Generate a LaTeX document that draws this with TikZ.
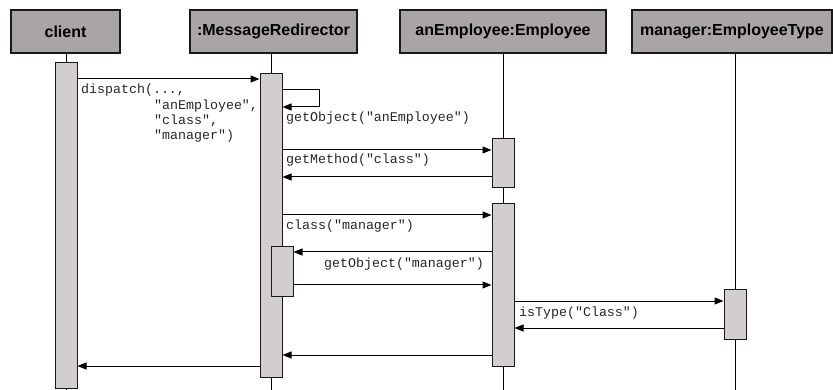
\documentclass[tikz,border=0pt]{standalone}
\usepackage{fontspec}
\setmainfont{Liberation Sans}
\newfontfamily\hdfont{Liberation Sans}
\newfontfamily\monofont{Liberation Mono}
\usetikzlibrary{arrows.meta}
\definecolor{hdr}{HTML}{A8A4A8}
\definecolor{actc}{HTML}{D1CDD1}
\begin{document}
\begin{tikzpicture}[x=1pt,y=1pt,
 hdrbox/.style={draw=black!90, fill=hdr, line width=1.2pt, inner sep=0pt, minimum height=43pt, font=\hdfont\bfseries\fontsize{16}{18}\selectfont},
 actbar/.style={draw=black!90, fill=actc, line width=1pt, inner sep=0pt, minimum width=22pt},
 life/.style={line width=1pt},
 msg/.style={line width=1pt, -{Triangle[length=9pt,width=7pt]}},
 lbl/.style={font=\monofont\fontsize{13.3}{15}\selectfont, text=black!85, inner sep=0pt, anchor=base west}]
\useasboundingbox (0,0) rectangle (833,-390);
% headers
\node[hdrbox, minimum width=109pt] (cH) at (65.5,-31.5) {client};
\node[hdrbox, minimum width=167pt] (rH) at (273.5,-31.5) {:MessageRedirector};
\node[hdrbox, minimum width=206pt] (eH) at (503,-31.5) {anEmployee:Employee};
\node[hdrbox, minimum width=200pt] (mH) at (732,-31.5) {manager:EmployeeType};
% lifeline ends
\coordinate (cL) at (66,-391);
\coordinate (rL) at (271,-391);
\coordinate (eL) at (503,-391);
\coordinate (mL) at (735,-391);
\draw[life] (cH.south -| cL) -- (cL);
\draw[life] (rH.south -| rL) -- (rL);
\draw[life] (eH.south -| eL) -- (eL);
\draw[life] (mH.south -| mL) -- (mL);
% activation bars
\node[actbar, minimum height=325pt] (cA) at (66,-225.5) {};
\node[actbar, minimum height=303pt] (rA) at (271,-225.5) {};
\node[actbar, minimum height=49pt] (rB) at (282,-271.5) {};
\node[actbar, minimum height=49pt] (eA) at (503,-163.5) {};
\node[actbar, minimum height=162pt] (eB) at (503,-285) {};
\node[actbar, minimum height=49pt] (mA) at (735,-314.5) {};
% message levels
\coordinate (y1) at (0,-79);
\coordinate (s1) at (319,-90);
\coordinate (s2) at (319,-107);
\coordinate (y3) at (0,-150);
\coordinate (y4) at (0,-177);
\coordinate (y5) at (0,-215);
\coordinate (y6) at (0,-252);
\coordinate (y7) at (0,-285);
\coordinate (y8) at (0,-301);
\coordinate (y9) at (0,-328);
\coordinate (y10) at (0,-355);
\coordinate (y11) at (0,-366);
% messages
\draw[msg] (cA.east |- y1) -- (rA.west |- y1);
\draw[msg] (rA.east |- s1) -- (s1) -- (s2) -- (rA.east |- s2);
\draw[msg] (rA.east |- y3) -- (eA.west |- y3);
\draw[msg] (eA.west |- y4) -- (rA.east |- y4);
\draw[msg] (rA.east |- y5) -- (eB.west |- y5);
\draw[msg] (eB.west |- y6) -- (rB.east |- y6);
\draw[msg] (rB.east |- y7) -- (eB.west |- y7);
\draw[msg] (eB.east |- y8) -- (mA.west |- y8);
\draw[msg] (mA.west |- y9) -- (eB.east |- y9);
\draw[msg] (eB.west |- y10) -- (rA.east |- y10);
\draw[msg] (rA.west |- y11) -- (cA.east |- y11);
% labels
\node[lbl] (d1) at (81,-94) {dispatch(...,};
\node[lbl] (d2) at (154,-109.5) {"anEmployee",};
\node[lbl] (d3) at (154,-125) {"class",};
\node[lbl] (d4) at (154,-140) {"manager")};
\node[lbl] (l2) at (286,-122) {getObject("anEmployee")};
\node[lbl] (l3) at (286,-164) {getMethod("class")};
\node[lbl] (l5) at (286,-230) {class("manager")};
\node[lbl] (l6) at (324,-267.5) {getObject("manager")};
\node[lbl] (l8) at (519,-316.5) {isType("Class")};
\end{tikzpicture}
\end{document}
